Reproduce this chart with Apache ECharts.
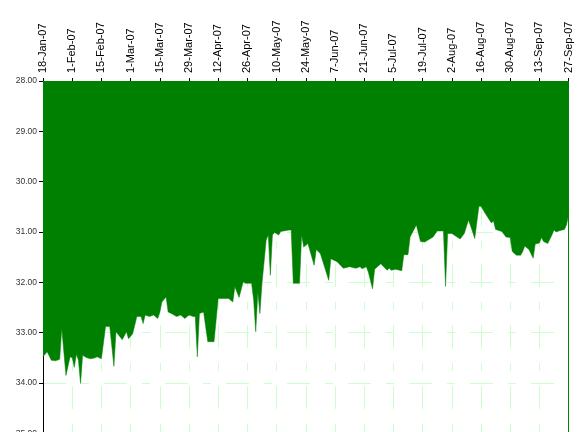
<!DOCTYPE html>
<html><head><meta charset="utf-8">
<script src="https://cdn.jsdelivr.net/npm/echarts@6/dist/echarts.min.js"></script>
<style>html,body{margin:0;padding:0;background:#fff}#c{width:577px;height:432px}</style>
</head><body><div id="c"></div>
<script>
const startDate = '2007-01-18';
const endDate = '2007-09-27';
const tickDays = 14;
const yTicks = [28, 29, 30, 31, 32, 33, 34, 35];
const monthNames = ['Jan','Feb','Mar','Apr','May','Jun','Jul','Aug','Sep','Oct','Nov','Dec'];
const dates = [
'2007-01-18','2007-01-20','2007-01-22','2007-01-24','2007-01-26','2007-01-27','2007-01-29','2007-01-31',
'2007-02-01','2007-02-02','2007-02-03','2007-02-04','2007-02-05','2007-02-06','2007-02-08','2007-02-10',
'2007-02-12','2007-02-13','2007-02-15','2007-02-17','2007-02-19','2007-02-21','2007-02-22','2007-02-25',
'2007-02-27','2007-02-28','2007-03-02','2007-03-04','2007-03-06','2007-03-07','2007-03-08','2007-03-10',
'2007-03-12','2007-03-14','2007-03-15','2007-03-16','2007-03-18','2007-03-19','2007-03-21','2007-03-23',
'2007-03-25','2007-03-27','2007-03-29','2007-03-31','2007-04-01','2007-04-02','2007-04-03','2007-04-05',
'2007-04-07','2007-04-10','2007-04-12','2007-04-17','2007-04-19','2007-04-20','2007-04-22','2007-04-24',
'2007-04-25','2007-04-28','2007-04-29','2007-04-30','2007-05-01','2007-05-02','2007-05-03','2007-05-05',
'2007-05-06','2007-05-07','2007-05-08','2007-05-09','2007-05-11','2007-05-12','2007-05-16','2007-05-17',
'2007-05-18','2007-05-21','2007-05-22','2007-05-23','2007-05-25','2007-05-28','2007-05-29','2007-05-31',
'2007-06-04','2007-06-05','2007-06-08','2007-06-11','2007-06-14','2007-06-17','2007-06-19','2007-06-20',
'2007-06-22','2007-06-23','2007-06-25','2007-06-26','2007-06-29','2007-07-01','2007-07-02','2007-07-03',
'2007-07-04','2007-07-06','2007-07-09','2007-07-10','2007-07-12','2007-07-13','2007-07-16','2007-07-18',
'2007-07-20','2007-07-24','2007-07-26','2007-07-29','2007-07-30','2007-07-31','2007-08-02','2007-08-06',
'2007-08-08','2007-08-10','2007-08-12','2007-08-13','2007-08-15','2007-08-16','2007-08-18','2007-08-21',
'2007-08-22','2007-08-23','2007-08-26','2007-08-28','2007-08-30','2007-08-31','2007-09-02','2007-09-04',
'2007-09-05','2007-09-06','2007-09-08','2007-09-10','2007-09-11','2007-09-13','2007-09-14','2007-09-15',
'2007-09-17','2007-09-19','2007-09-20','2007-09-21','2007-09-23','2007-09-25','2007-09-26','2007-09-27'
];
const values = [
33.48,33.38,33.55,33.56,33.53,32.92,33.85,33.48,
33.50,33.69,33.43,33.55,34.01,33.45,33.50,33.52,
33.50,33.48,33.52,32.88,32.88,33.67,32.98,33.14,
32.98,33.12,33.02,32.68,32.68,32.82,32.65,32.68,
32.65,32.72,32.60,32.39,32.29,32.59,32.63,32.68,
32.65,32.72,32.65,32.68,32.68,33.48,32.62,32.59,
33.18,33.18,32.32,32.32,32.39,32.09,32.30,31.99,
32.02,32.02,32.35,32.98,32.19,32.62,32.02,31.16,
31.06,31.86,31.06,31.01,31.06,30.99,30.96,30.96,
32.02,32.02,31.06,31.30,31.23,31.66,31.35,31.43,
31.96,31.53,31.59,31.72,31.69,31.72,31.69,31.73,
31.69,31.80,32.13,31.74,31.63,31.72,31.76,31.72,
31.76,31.74,31.77,31.45,31.45,31.10,30.86,31.19,
31.20,31.10,30.98,30.98,32.08,31.03,31.03,31.14,
31.03,30.76,31.00,31.13,30.49,30.49,30.63,30.82,
30.78,30.95,30.99,31.10,31.11,31.39,31.46,31.46,
31.39,31.28,31.35,31.52,31.24,31.22,31.11,31.19,
31.23,31.06,30.96,31.00,30.97,30.95,30.86,30.66
];

const DAY = 86400000;
const t0 = Date.parse(startDate);
const toDay = d => Math.round((Date.parse(d) - t0) / DAY);
const seriesData = dates.map((d, i) => [toDay(d), values[i]]);
const maxDay = toDay(endDate);
const fmtDay = v => {
  const dt = new Date(t0 + v * DAY);
  return dt.getUTCDate() + '-' + monthNames[dt.getUTCMonth()] + '-' + String(dt.getUTCFullYear()).slice(2);
};
const font = "'Liberation Sans', Arial, sans-serif";
const gridLine = { show: true, lineStyle: { color: '#ccffcc', width: 1, type: [23, 15, 8, 15] } };

const chart = echarts.init(document.getElementById('c'), null, { renderer: 'canvas' });
chart.setOption({
  animation: false,
  backgroundColor: '#ffffff',
  grid: { left: 43, right: 8.4, top: 81, bottom: -1.3, containLabel: false, outerBoundsMode: 'none' },
  xAxis: {
    type: 'value', position: 'top', min: 0, max: maxDay, interval: tickDays,
    axisLine: { show: true, onZero: false, lineStyle: { color: '#000', width: 1 } },
    axisTick: { show: true, length: 3, lineStyle: { color: '#000' } },
    axisLabel: { rotate: -90, margin: 8, fontSize: 11, color: '#000', fontFamily: font, formatter: fmtDay, showMinLabel: true, showMaxLabel: true },
    splitLine: gridLine
  },
  yAxis: {
    type: 'value', inverse: true, min: yTicks[0], max: yTicks[yTicks.length - 1], interval: 1,
    axisLine: { show: true, lineStyle: { color: '#000', width: 1 } },
    axisTick: { show: true, length: 4, lineStyle: { color: '#000' } },
    axisLabel: { margin: 6, fontSize: 8.5, color: '#333', fontFamily: font, formatter: v => v.toFixed(2) },
    splitLine: gridLine
  },
  series: [{
    type: 'line', data: seriesData, symbol: 'none', smooth: false,
    lineStyle: { color: '#008000', width: 0.5 },
    areaStyle: { color: '#008000', opacity: 1, origin: 'start' },
    markLine: {
      silent: true, symbol: 'none', label: { show: false },
      lineStyle: { color: '#008000', width: 1, type: 'solid' },
      data: [{ xAxis: maxDay }]
    }
  }]
});
</script></body></html>
